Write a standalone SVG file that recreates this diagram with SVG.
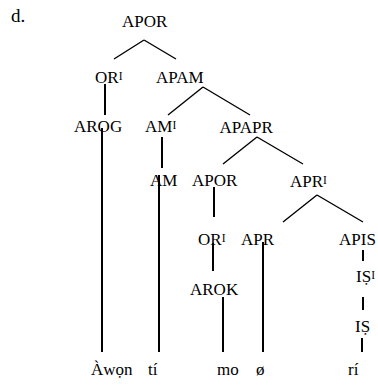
<svg xmlns="http://www.w3.org/2000/svg" width="378" height="385" viewBox="0 0 378 385">
<style>
.t text{font-size:17px;fill:#000}
.sup{font-size:11.5px}
.d{stroke:#000;stroke-width:1.4;fill:none}
.v{stroke:#000;stroke-width:2;fill:none}
</style>
<rect width="378" height="385" fill="#fff"/>
<g class="t" font-family="'Liberation Serif', 'Times New Roman', 'DejaVu Serif', serif">
<text x="11" y="22" style="font-size:19px">d.</text>
<g id="connectors">
<path class="d" d="M144,40L114,59M144,40L176,59"/>
<path class="d" d="M203,87L168,115M203,87L250,115"/>
<path class="d" d="M257,137L223,164M257,137L303,164"/>
<path class="d" d="M317,195L283,222M317,195L363,222"/>
<path class="v" d="M105,84V115M102,128V352M162,137V168M159,175V352M214,187V217M213,243V271M223,297V352M263,242V352M363,250V261M363,297V310M362,338V352"/>
</g>
<g id="n-apor"><text x="122" y="27">APOR</text></g>
<g id="n-or1"><text x="95" y="83">OR<tspan class="sup" dy="-3.5">I</tspan></text></g>
<g id="n-apam"><text x="156" y="83">APAM</text></g>
<g id="n-arog"><text x="74" y="132">AROG</text></g>
<g id="n-am1"><text x="145" y="132">AM<tspan class="sup" dy="-3.5">I</tspan></text></g>
<g id="n-apapr"><text x="219.5" y="133">APAPR</text></g>
<g id="n-am"><text x="150" y="186">AM</text></g>
<g id="n-apor2"><text x="192" y="186">APOR</text></g>
<g id="n-apr1"><text x="290" y="187">APR<tspan class="sup" dy="-3.5">I</tspan></text></g>
<g id="n-or2"><text x="198" y="245">OR<tspan class="sup" dy="-3.5">I</tspan></text></g>
<g id="n-apr"><text x="241" y="245">APR</text></g>
<g id="n-apis"><text x="339" y="245">APIS</text></g>
<g id="n-arok"><text x="190" y="295">AROK</text></g>
<g id="n-is1"><text x="356" y="282">IṢ<tspan class="sup" dy="-3.5">I</tspan></text></g>
<g id="n-is"><text x="355" y="332">IṢ</text></g>
<g id="w-awon"><text x="91" y="375">Àwọn</text></g>
<g id="w-ti"><text x="148" y="375">tí</text></g>
<g id="w-mo"><text x="217" y="375">mo</text></g>
<g id="w-o"><text x="256" y="375">ø</text></g>
<g id="w-ri"><text x="348" y="375">rí</text></g>
</g>
</svg>
